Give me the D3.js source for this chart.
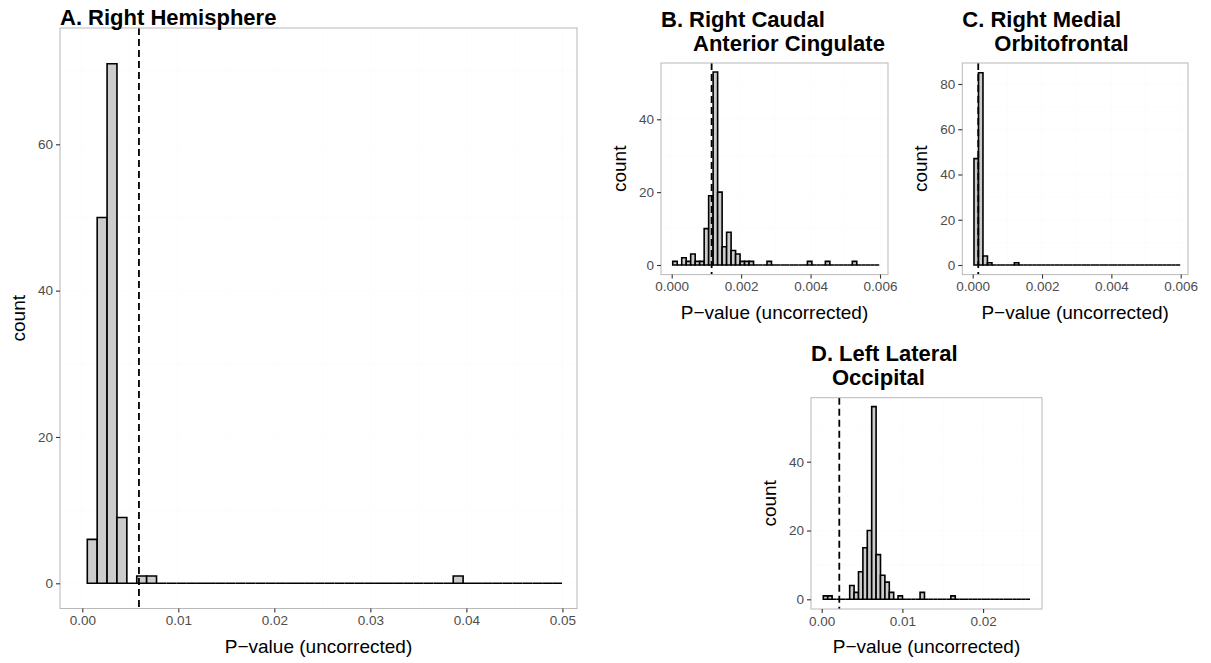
<!DOCTYPE html>
<html>
<head>
<meta charset="utf-8">
<script src="https://cdn.jsdelivr.net/npm/d3@7"></script>
<style>
  body { margin: 0; background: #ffffff; }
  svg { font-family: "Liberation Sans", Arial, Helvetica, sans-serif; display: block; }
</style>
</head>
<body>
<svg id="chart" width="1211" height="663"></svg>
<script>
// Histogram counts of permutation p-values, one array per region
const hemisphereCounts = [6, 50, 71, 9, 0, 1, 1, 0, 0, 0,
  0, 0, 0, 0, 0, 0, 0, 0, 0, 0,
  0, 0, 0, 0, 0, 0, 0, 0, 0, 0,
  0, 0, 0, 0, 0, 0, 0, 1, 0, 0,
  0, 0, 0, 0, 0, 0, 0, 0];
const caudalCounts = [1, 0, 2, 1, 3, 1, 1, 10, 19, 53,
  20, 5, 9, 4, 3, 1, 1, 1, 0, 0,
  0, 1, 0, 0, 0, 0, 0, 0, 0, 0,
  1, 0, 0, 0, 1, 0, 0, 0, 0, 0,
  1, 0, 0, 0, 0, 0];
const medialCounts = [47, 85, 4, 1, 0, 0, 0, 0, 0, 1,
  0, 0, 0, 0, 0, 0, 0, 0, 0, 0,
  0, 0, 0, 0, 0, 0, 0, 0, 0, 0,
  0, 0, 0, 0, 0, 0, 0, 0, 0, 0,
  0, 0, 0, 0, 0, 0];
const occipitalCounts = [1, 1, 0, 0, 0, 0, 4, 2, 8, 15,
  20, 56, 13, 7, 5, 2, 0, 1, 0, 0,
  0, 0, 2, 0, 0, 0, 0, 0, 0, 1,
  0, 0, 0, 0, 0, 0, 0, 0, 0, 0,
  0, 0, 0, 0, 0, 0, 0];

// Bin origin and bin width (p-value units)
const binStarts = [0.00052, 0.00003, 0.0000375, 0.0002];
const binWidths = [0.00103, 0.0001293, 0.0001293, 0.000545];

// Observed (uncorrected) p-value of each region, drawn as dashed line
const observedP = [0.0059, 0.00115, 0.00016, 0.00218];

// Tick values
const xTicksA = [0, 0.01, 0.02, 0.03, 0.04, 0.05];
const xTicksBC = [0, 0.002, 0.004, 0.006];
const xTicksD = [0, 0.01, 0.02];
const yTicksA = [0, 20, 40, 60];
const yTicksB = [0, 20, 40];
const yTicksC = [0, 20, 40, 60, 80];
const yTicksD = [0, 20, 40];

const titles = [
  ["A. Right Hemisphere"],
  ["B. Right Caudal", "Anterior Cingulate"],
  ["C. Right Medial", "Orbitofrontal"],
  ["D. Left Lateral", "Occipital"]
];
const xLabel = "P\u2212value (uncorrected)";
const yLabel = "count";

// Panel geometry (pixels) and scale anchors
const layout = [
  { box: { left: 60, right: 577, top: 28, bottom: 608.5 },
    xDom: [0, 0.05], xRng: [82.3, 562.4], yDom: [0, 60], yRng: [583.3, 144.3],
    xFmt: ".2f", xTicks: xTicksA, yTicks: yTicksA,
    titleY: [25], titleDx: [0] },
  { box: { left: 661, right: 888, top: 63, bottom: 274.6 },
    xDom: [0, 0.006], xRng: [671.7, 880], yDom: [0, 40], yRng: [265, 119.3],
    xFmt: ".3f", xTicks: xTicksBC, yTicks: yTicksB,
    titleY: [27, 51], titleDx: [0, 32] },
  { box: { left: 962.3, right: 1188, top: 63, bottom: 274.6 },
    xDom: [0, 0.006], xRng: [972.7, 1180.7], yDom: [0, 80], yRng: [265, 84],
    xFmt: ".3f", xTicks: xTicksBC, yTicks: yTicksC,
    titleY: [27, 51], titleDx: [0, 32] },
  { box: { left: 811, right: 1042, top: 397.7, bottom: 609 },
    xDom: [0, 0.02], xRng: [821.7, 983.1], yDom: [0, 40], yRng: [599.3, 461.7],
    xFmt: ".2f", xTicks: xTicksD, yTicks: yTicksD,
    titleY: [361, 385], titleDx: [0, 21] }
];

const countSets = [hemisphereCounts, caudalCounts, medialCounts, occipitalCounts];

const svg = d3.select("#chart");

layout.forEach((L, i) => {
  const g = svg.append("g");
  const b = L.box;
  const x = d3.scaleLinear().domain(L.xDom).range(L.xRng);
  const y = d3.scaleLinear().domain(L.yDom).range(L.yRng);

  // panel background
  g.append("rect")
    .attr("x", b.left).attr("y", b.top)
    .attr("width", b.right - b.left).attr("height", b.bottom - b.top)
    .attr("fill", "#ffffff");

  // very faint grid lines (major + minor)
  const xStep = L.xTicks[1] - L.xTicks[0];
  const yStep = L.yTicks[1] - L.yTicks[0];
  const xGrid = [];
  for (let v = L.xTicks[0] - xStep / 2; x(v) < b.right; v += xStep / 2) if (x(v) > b.left) xGrid.push(v);
  const yGrid = [];
  for (let v = L.yTicks[0] - yStep / 2; y(v) > b.top; v += yStep / 2) if (y(v) < b.bottom) yGrid.push(v);
  g.append("g").selectAll("line").data(xGrid).join("line")
    .attr("x1", d => x(d)).attr("x2", d => x(d))
    .attr("y1", b.top).attr("y2", b.bottom)
    .attr("stroke", "#fbfbfb").attr("stroke-width", 0.8);
  g.append("g").selectAll("line").data(yGrid).join("line")
    .attr("y1", d => y(d)).attr("y2", d => y(d))
    .attr("x1", b.left).attr("x2", b.right)
    .attr("stroke", "#fbfbfb").attr("stroke-width", 0.8);

  // histogram bars (zero-count bins appear as flat outlines)
  const counts = countSets[i];
  const bins = counts.map((c, k) => ({
    x0: binStarts[i] + k * binWidths[i],
    x1: binStarts[i] + (k + 1) * binWidths[i],
    n: c
  }));
  g.append("g").selectAll("path").data(bins).join("path")
    .attr("d", d => {
      const xa = x(d.x0), xb = x(d.x1), y0 = y(0), y1 = y(d.n);
      return `M${xa},${y0}L${xa},${y1}L${xb},${y1}L${xb},${y0}Z`;
    })
    .attr("fill", "#cccccc")
    .attr("stroke", "#000000")
    .attr("stroke-width", 1.6)
    .attr("stroke-linejoin", "miter");

  // observed p-value
  g.append("line")
    .attr("x1", x(observedP[i])).attr("x2", x(observedP[i]))
    .attr("y1", b.top).attr("y2", b.bottom)
    .attr("stroke", "#000000").attr("stroke-width", 1.8)
    .attr("stroke-dasharray", "7,4");

  // panel border
  g.append("rect")
    .attr("x", b.left).attr("y", b.top)
    .attr("width", b.right - b.left).attr("height", b.bottom - b.top)
    .attr("fill", "none").attr("stroke", "#b8b8b8").attr("stroke-width", 1);

  // axes
  const xAxis = g.append("g")
    .attr("transform", `translate(0,${b.bottom})`)
    .call(d3.axisBottom(x).tickValues(L.xTicks).tickFormat(d3.format(L.xFmt)).tickSize(4).tickPadding(3));
  const yAxis = g.append("g")
    .attr("transform", `translate(${b.left},0)`)
    .call(d3.axisLeft(y).tickValues(L.yTicks).tickFormat(d3.format("d")).tickSize(4).tickPadding(3));
  [xAxis, yAxis].forEach(ax => {
    ax.select(".domain").remove();
    ax.selectAll(".tick line").attr("stroke", "#333333").attr("stroke-width", 1.1);
    ax.selectAll(".tick text")
      .attr("fill", "#4d4d4d")
      .style("font-size", "13.5px")
      .style("font-family", "'Liberation Sans', Arial, sans-serif");
  });

  // axis titles
  g.append("text")
    .attr("x", (b.left + b.right) / 2)
    .attr("y", b.bottom + 44)
    .attr("text-anchor", "middle")
    .style("font-size", "19px")
    .attr("fill", "#000")
    .text(xLabel);
  g.append("text")
    .attr("transform", `translate(${b.left - 35},${(b.top + b.bottom) / 2}) rotate(-90)`)
    .attr("text-anchor", "middle")
    .style("font-size", "19px")
    .attr("fill", "#000")
    .text(yLabel);

  // panel title
  titles[i].forEach((t, j) => {
    g.append("text")
      .attr("x", b.left + L.titleDx[j])
      .attr("y", L.titleY[j])
      .style("font-size", "22px")
      .style("font-weight", "bold")
      .attr("fill", "#000")
      .text(t);
  });
});
</script>
</body>
</html>
